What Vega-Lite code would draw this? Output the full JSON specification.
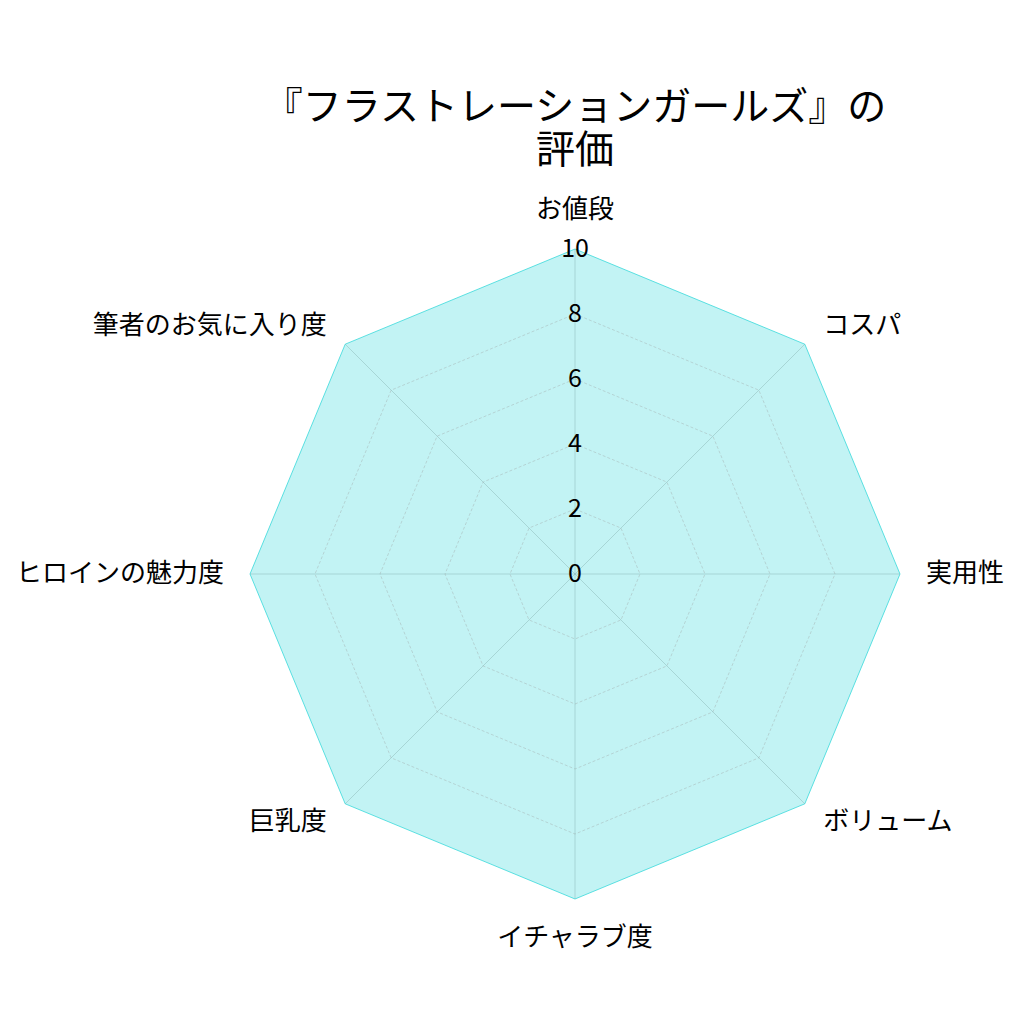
{
  "$schema": "https://vega.github.io/schema/vega-lite/v6.json",
  "width": 1024,
  "height": 1024,
  "autosize": "none",
  "padding": 0,
  "background": "white",
  "config": {"view": {"stroke": null}, "font": "Noto Sans CJK JP"},
  "title": {
    "text": ["『フラストレーションガールズ』の", "評価"],
    "font": "Noto Sans CJK JP",
    "fontSize": 39,
    "fontWeight": "normal",
    "color": "#000000",
    "anchor": "middle",
    "orient": "top",
    "baseline": "top",
    "offset": 0,
    "dx": 63,
    "dy": 171,
    "lineHeight": 43
  },
  "data": {
    "values": [
      {"category": "お値段", "idx": 0, "value": 10, "levels": [0, 2, 4, 6, 8, 10]},
      {"category": "コスパ", "idx": 1, "value": 10, "levels": [0, 2, 4, 6, 8, 10]},
      {"category": "実用性", "idx": 2, "value": 10, "levels": [0, 2, 4, 6, 8, 10]},
      {"category": "ボリューム", "idx": 3, "value": 10, "levels": [0, 2, 4, 6, 8, 10]},
      {"category": "イチャラブ度", "idx": 4, "value": 10, "levels": [0, 2, 4, 6, 8, 10]},
      {"category": "巨乳度", "idx": 5, "value": 10, "levels": [0, 2, 4, 6, 8, 10]},
      {"category": "ヒロインの魅力度", "idx": 6, "value": 10, "levels": [0, 2, 4, 6, 8, 10]},
      {"category": "筆者のお気に入り度", "idx": 7, "value": 10, "levels": [0, 2, 4, 6, 8, 10]}
    ]
  },
  "encoding": {
    "x": {"field": "x", "type": "quantitative", "scale": {"domain": [-17.692, 13.815], "nice": false, "zero": false}, "axis": null},
    "y": {"field": "y", "type": "quantitative", "scale": {"domain": [-13.846, 17.662], "nice": false, "zero": false}, "axis": null}
  },
  "layer": [
    {
      "transform": [
        {"calculate": "datum.value * sin(datum.idx * PI / 4)", "as": "x"},
        {"calculate": "datum.value * cos(datum.idx * PI / 4)", "as": "y"}
      ],
      "mark": {"type": "line", "interpolate": "linear-closed", "fill": "#00ced1", "fillOpacity": 0.24, "stroke": "#00ced1", "strokeOpacity": 0.6, "strokeWidth": 1},
      "encoding": {"order": {"field": "idx", "type": "quantitative"}}
    },
    {
      "transform": [
        {"flatten": ["levels"], "as": ["level"]},
        {"filter": "datum.level > 0 && datum.level < 10"},
        {"calculate": "datum.level * sin(datum.idx * PI / 4)", "as": "x"},
        {"calculate": "datum.level * cos(datum.idx * PI / 4)", "as": "y"}
      ],
      "mark": {"type": "line", "interpolate": "linear-closed", "stroke": "#999999", "strokeOpacity": 0.45, "strokeWidth": 0.8, "strokeDash": [3, 2]},
      "encoding": {
        "detail": {"field": "level", "type": "nominal"},
        "order": {"field": "idx", "type": "quantitative"}
      }
    },
    {
      "transform": [
        {"calculate": "datum.value * sin(datum.idx * PI / 4)", "as": "x"},
        {"calculate": "datum.value * cos(datum.idx * PI / 4)", "as": "y"}
      ],
      "mark": {"type": "rule", "stroke": "#7fa9a9", "strokeOpacity": 0.4, "strokeWidth": 1},
      "encoding": {"x2": {"datum": 0}, "y2": {"datum": 0}}
    },
    {
      "transform": [
        {"filter": "datum.idx == 0"},
        {"flatten": ["levels"], "as": ["level"]},
        {"calculate": "0", "as": "x"},
        {"calculate": "datum.level", "as": "y"}
      ],
      "mark": {"type": "text", "fontSize": 25, "align": "center", "baseline": "middle", "color": "#000000"},
      "encoding": {"text": {"field": "level", "type": "quantitative"}}
    },
    {
      "transform": [
        {"filter": "datum.idx == 0"},
        {"calculate": "10.8 * sin(datum.idx * PI / 4)", "as": "x"},
        {"calculate": "10.8 * cos(datum.idx * PI / 4)", "as": "y"}
      ],
      "mark": {"type": "text", "fontSize": 26, "align": "center", "baseline": "bottom", "color": "#000000"},
      "encoding": {"text": {"field": "category", "type": "nominal"}}
    },
    {
      "transform": [
        {"filter": "datum.idx == 4"},
        {"calculate": "10.8 * sin(datum.idx * PI / 4)", "as": "x"},
        {"calculate": "10.8 * cos(datum.idx * PI / 4)", "as": "y"}
      ],
      "mark": {"type": "text", "fontSize": 26, "align": "center", "baseline": "top", "color": "#000000"},
      "encoding": {"text": {"field": "category", "type": "nominal"}}
    },
    {
      "transform": [
        {"filter": "datum.idx >= 1 && datum.idx <= 3"},
        {"calculate": "10.8 * sin(datum.idx * PI / 4)", "as": "x"},
        {"calculate": "10.8 * cos(datum.idx * PI / 4)", "as": "y"}
      ],
      "mark": {"type": "text", "fontSize": 26, "align": "left", "baseline": "middle", "color": "#000000"},
      "encoding": {"text": {"field": "category", "type": "nominal"}}
    },
    {
      "transform": [
        {"filter": "datum.idx >= 5"},
        {"calculate": "10.8 * sin(datum.idx * PI / 4)", "as": "x"},
        {"calculate": "10.8 * cos(datum.idx * PI / 4)", "as": "y"}
      ],
      "mark": {"type": "text", "fontSize": 26, "align": "right", "baseline": "middle", "color": "#000000"},
      "encoding": {"text": {"field": "category", "type": "nominal"}}
    }
  ]
}
